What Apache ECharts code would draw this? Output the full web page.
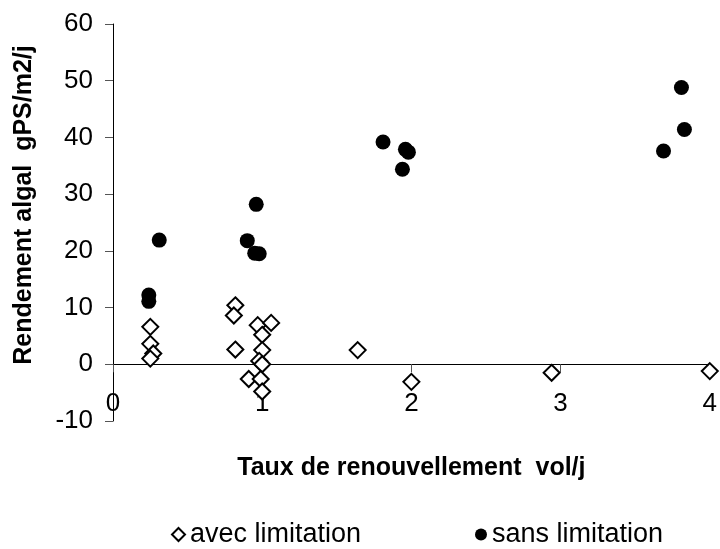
<!DOCTYPE html>
<html>
<head>
<meta charset="utf-8">
<script src="https://cdn.jsdelivr.net/npm/echarts@6/dist/echarts.min.js"></script>
<style>html,body{margin:0;padding:0;background:#fff}#c{width:720px;height:549px}</style>
</head>
<body>
<div id="c"></div>
<script>
// Data
const avecX = [0.25, 0.25, 0.27, 0.25, 0.82, 0.81, 0.82, 0.97, 1.06, 1.00, 1.00, 0.98, 1.00, 0.91, 0.99, 1.00, 1.64, 2.00, 2.94, 4.00];
const avecY = [6.6, 3.6, 1.9, 1.0, 10.4, 8.6, 2.6, 6.9, 7.3, 5.2, 2.5, 0.6, 0.0, -2.6, -2.6, -4.8, 2.5, -3.1, -1.5, -1.2];
const sansX = [0.31, 0.24, 0.24, 0.96, 0.90, 0.95, 0.98, 1.81, 1.96, 1.98, 1.94, 3.69, 3.83, 3.81];
const sansY = [21.9, 12.2, 11.1, 28.2, 21.8, 19.6, 19.5, 39.2, 37.9, 37.4, 34.4, 37.6, 41.4, 48.8];
const seriesNames = ['avec limitation', 'sans limitation'];
const xTitle = 'Taux de renouvellement  vol/j';
const yTitle = 'Rendement algal  gPS/m2/j';
const xMin = 0, xMax = 4, xStep = 1;
const yMin = -10, yMax = 60, yStep = 10;

const pairs = (xs, ys) => xs.map((x, i) => [x, ys[i]]);
const font = 'Liberation Sans, Arial, sans-serif';

const gridTop = 24, gridBottom = 128, H = 549;
const plotH = H - gridTop - gridBottom;
// move the x axis up to y = 0 (like Excel's crossing at zero)
const xAxisOffset = -((0 - yMin) / (yMax - yMin)) * plotH;

const chart = echarts.init(document.getElementById('c'), null, {renderer: 'canvas'});
chart.setOption({
  animation: false,
  backgroundColor: '#ffffff',
  textStyle: {fontFamily: font, color: '#000'},
  grid: {left: 113, right: 7, top: gridTop, bottom: gridBottom, containLabel: false},
  legend: [
    {data: [seriesNames[0]], left: 166, top: 516, itemWidth: 13, itemHeight: 13,
     textStyle: {fontFamily: font, fontSize: 27, color: '#000'}, itemGap: 4},
    {data: [seriesNames[1]], left: 470, top: 516, itemWidth: 12, itemHeight: 12,
     textStyle: {fontFamily: font, fontSize: 27, color: '#000'}, itemGap: 4}
  ],
  xAxis: {
    type: 'value', min: xMin, max: xMax, interval: xStep,
    offset: xAxisOffset,
    name: xTitle, nameLocation: 'middle', nameGap: 91,
    nameTextStyle: {fontFamily: font, fontSize: 25, fontWeight: 'bold', color: '#000'},
    axisLine: {onZero: false, lineStyle: {color: '#000', width: 1}},
    axisTick: {show: true, inside: false, length: 8, lineStyle: {color: '#555'}},
    axisLabel: {fontFamily: font, fontSize: 26, color: '#000', margin: 27},
    splitLine: {show: false}
  },
  yAxis: {
    type: 'value', min: yMin, max: yMax, interval: yStep,
    axisLine: {show: true, onZero: false, lineStyle: {color: '#000', width: 1}},
    axisTick: {show: true, inside: false, length: 8, lineStyle: {color: '#555'}},
    axisLabel: {fontFamily: font, fontSize: 26, color: '#000', margin: 20},
    splitLine: {show: false}
  },
  graphic: [{
    type: 'text', x: 24, y: 205, rotation: Math.PI / 2,
    style: {text: yTitle, font: 'bold 25px ' + font, fill: '#000', textAlign: 'center', textVerticalAlign: 'middle'}
  }],
  series: [
    {name: seriesNames[0], type: 'scatter', symbol: 'diamond', symbolSize: 16,
     itemStyle: {color: '#fff', borderColor: '#000', borderWidth: 2, opacity: 1},
     data: pairs(avecX, avecY), z: 3},
    {name: seriesNames[1], type: 'scatter', symbol: 'circle', symbolSize: 15,
     itemStyle: {color: '#000', opacity: 1},
     data: pairs(sansX, sansY), z: 4}
  ]
});
</script>
</body>
</html>
